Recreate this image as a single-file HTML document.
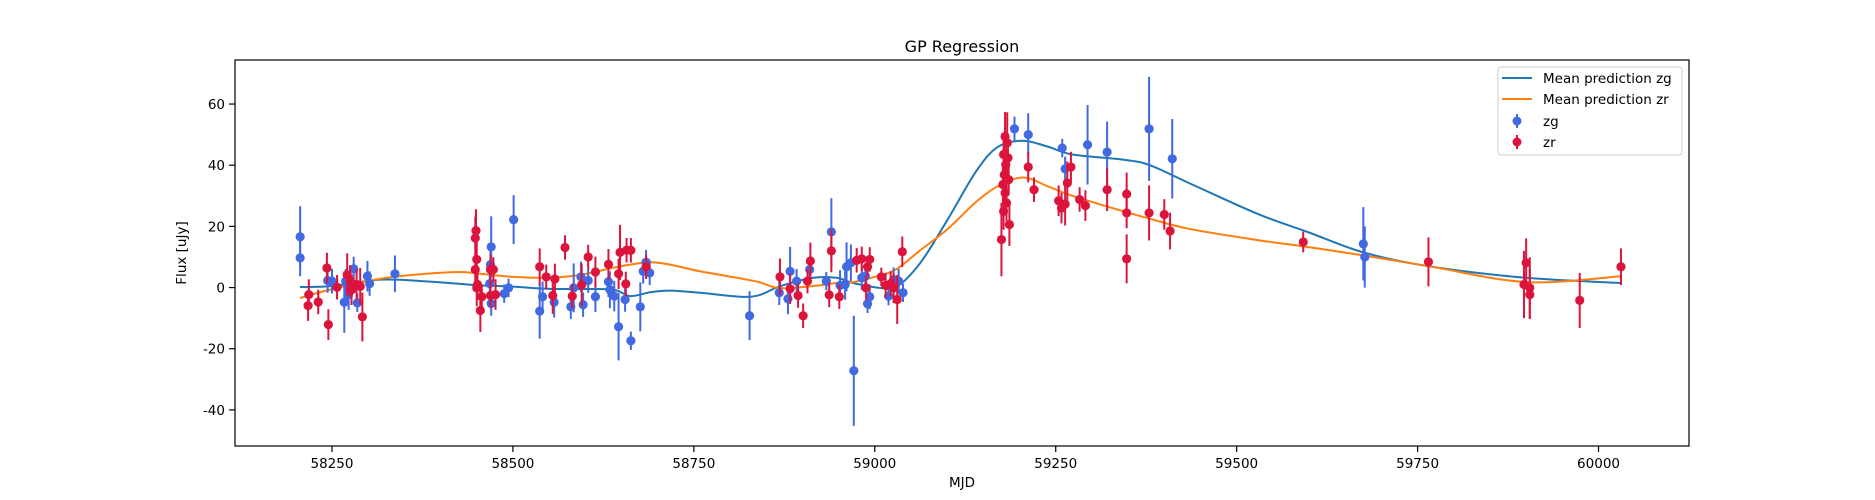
<!DOCTYPE html>
<html><head><meta charset="utf-8"><style>
html,body{margin:0;padding:0;background:#fff;}
svg{display:block;font-family:"DejaVu Sans","Liberation Sans",sans-serif;}
</style></head><body>
<svg id="chart" width="1875" height="500" viewBox="0 0 1875 500" xmlns="http://www.w3.org/2000/svg">
<rect x="0" y="0" width="1875" height="500" fill="#fff"/>
<text x="962" y="52" font-size="16" text-anchor="middle" fill="#000">GP Regression</text>
<text x="962" y="487" font-size="13.5" text-anchor="middle" fill="#000">MJD</text>
<text x="0" y="0" transform="translate(186,253) rotate(-90)" font-size="13.5" text-anchor="middle" fill="#000">Flux [uJy]</text>
<g id="plot"></g>
<rect x="235" y="60" width="1454" height="386" fill="none" stroke="#000" stroke-width="1.2"/>
<g>
<rect x="1498" y="67" width="184" height="88" rx="3" fill="#fff" fill-opacity="0.8" stroke="#ccc" stroke-width="1"/>
<line x1="1502" y1="78" x2="1532" y2="78" stroke="#1f77b4" stroke-width="2"/>
<text x="1543" y="83" font-size="13.5" fill="#000">Mean prediction zg</text>
<line x1="1502" y1="99" x2="1532" y2="99" stroke="#ff7f0e" stroke-width="2"/>
<text x="1543" y="104" font-size="13.5" fill="#000">Mean prediction zr</text>
<line x1="1517" y1="114" x2="1517" y2="128" stroke="#4169e1" stroke-width="2"/>
<circle cx="1517" cy="121" r="4.5" fill="#4169e1"/>
<text x="1543" y="126" font-size="13.5" fill="#000">zg</text>
<line x1="1517" y1="135" x2="1517" y2="149" stroke="#dc143c" stroke-width="2"/>
<circle cx="1517" cy="142" r="4.5" fill="#dc143c"/>
<text x="1543" y="147" font-size="13.5" fill="#000">zr</text>
</g>
</svg>
<script>
const xTicks = [58250,58500,58750,59000,59250,59500,59750,60000];
const yTicks = [-40,-20,0,20,40,60];
const gridT = [58206,58250,58317,58380,58427,58455,58500,58547,58590,58639,58662,58690,58717,58759,58814,58840,58869,58915,58947,58970,59007,59030,59063,59100,59140,59170,59205,59240,59273,59344,59380,59434,59530,59600,59675,59765,59900,60031];
const meanZg = [0.2,0.5,2.6,2,1.2,0.7,0.3,-0.4,-0.5,-0.7,-2.8,-1.5,-1,-1.7,-3,-2.5,0.4,3.2,3.2,1.5,-0.1,0.2,8.1,22,38,46,48,46,43.5,41.8,40,34.2,24,18,11.5,7,3.2,1.5];
const meanZr = [-3.4,-0.5,2.9,4.5,5.1,4.5,3.5,3.2,4,6.5,7.5,8.3,7.5,5.3,3,1.8,-0.2,0.5,1.5,1.8,4,6,12.2,19,28,33.1,36,33,30,24.9,22.5,19.2,15.5,13.2,10.5,7,1.8,3.7];
const zgT = [58206,58206,58244,58250,58267,58269,58273,58280,58285,58299,58302,58337,58468,58469,58470,58470,58488,58494,58501,58537,58541,58557,58580,58584,58594,58597,58604,58614,58632,58634,58640,58646,58655,58663,58676,58680,58684,58689,58827,58868,58880,58883,58892,58910,58933,58940,58952,58959,58961,58967,58971,58982,58987,58990,58993,59019,59026,59033,59039,59193,59212,59259,59263,59294,59321,59379,59411,59675,59677];
const zgF = [16.6,9.7,2.3,2.1,-4.8,2.1,-2.3,6.1,-5,3.7,1.3,4.5,1.3,7.5,13.3,-5.2,-2,-0.1,22.2,-7.7,-3,-4.8,-6.3,-0.1,3.5,-5.6,2.3,-3,1.9,-0.7,-2.8,-12.8,-3.9,-17.4,-6.3,5.3,8.3,4.8,-9.2,-1.7,-3.7,5.3,2.1,5.9,2.1,18.2,0.7,1,6.8,8.1,-27.2,3.2,3.7,-5.3,-3,-2.8,2.6,2.1,-1.7,51.9,50,45.6,38.8,46.7,44.3,51.9,42.1,14.3,10];
const zgE = [10,6,4,4,10,4,5,4,3,5,4,6,5,6,10,4,3,3,8,9,5,5,4,8,5,4,4,5,5,6,5,11,4,3,8,4,4,4,8,4,5,8,4,3,3,11,5,5,8,6,18,4,4,3,4,3,4,4,3,4,7,3,4,13,10,17,13,12,10];
const zrT = [58218,58217,58231,58243,58245,58257,58271,58275,58277,58284,58289,58292,58449,58448,58450,58448,58450,58451,58457,58455,58469,58473,58469,58476,58537,58546,58558,58555,58572,58582,58595,58604,58614,58632,58646,58648,58657,58663,58656,58684,58869,58883,58894,58901,58907,58911,58937,58940,58951,58975,58982,58988,58990,58993,59009,59015,59022,59026,59031,59038,59180,59183,59178,59184,59181,59179,59185,59177,59180,59182,59178,59186,59175,59212,59220,59254,59258,59263,59266,59271,59283,59291,59321,59348,59348,59348,59379,59400,59408,59592,59765,59900,59897,59905,59905,59974,60031];
const zrF = [-2.3,-5.9,-4.7,6.4,-12.1,0.1,4.2,2.3,-0.7,1,0.4,-9.6,18.6,16.2,9.2,5.9,-0.1,1,-3,-7.5,5.9,5.9,-2.6,-2.3,6.8,3.5,2.8,-2.6,13.1,-2.8,0.9,10,5.1,7.6,4.5,11.5,12.2,12.2,1.2,6.8,3.5,-0.4,-2.6,-9.2,2.1,8.7,-2.4,12,-3,8.9,9.4,-0.1,6.8,9.2,3.5,0.7,1.3,-0.1,-3.9,11.7,49.4,47.3,43.5,42.4,40.2,36.9,35.3,33.7,30.9,27.7,24.9,20.6,15.7,39.4,32,28.4,26,27.3,34.2,39.4,28.8,26.8,32,30.6,24.4,9.4,24.4,23.9,18.5,14.9,8.4,8.1,1,-0.1,-2.3,-4.2,6.8];
const zrE = [5,5,4,5,5,4,7,5,5,5,6,8,7,7,6,5,6,5,4,7,5,4,4,5,6,4,5,6,4,4,7,4,5,5,5,9,4,4,4,4,6,5,4,4,4,6,4,7,4,4,4,4,3,4,3,4,4,5,8,5,8,10,6,7,5,6,5,6,6,6,6,7,12,5,4,5,5,7,7,5,4,5,7,7,5,8,9,5,6,3.4,8,8,11,10,8,9,6];

const X0=235, X1=1689, Y0=60, Y1=446;
const xMin=58116, xMax=60125, yMin=-51.8, yMax=74.4;
function sx(t){return X0+(t-xMin)/(xMax-xMin)*(X1-X0);}
function sy(v){return Y1-(v-yMin)/(yMax-yMin)*(Y1-Y0);}
const NS='http://www.w3.org/2000/svg';
const svg=document.getElementById('chart');
const plot=document.getElementById('plot');
function mk(tag,attrs,parent){const e=document.createElementNS(NS,tag);for(const k in attrs)e.setAttribute(k,attrs[k]);(parent||plot).appendChild(e);return e;}

// ticks
xTicks.forEach(t=>{
  const l=mk('line',{x1:sx(t),x2:sx(t),y1:Y1,y2:Y1+6,stroke:'#000','stroke-width':1.2},svg);
  
  
  const tx=mk('text',{x:sx(t),y:Y1+22,'font-size':13.5,'text-anchor':'middle',fill:'#000'},svg);
  tx.textContent=t;
  
  
});
yTicks.forEach(v=>{
  const l=mk('line',{x1:X0-6,x2:X0,y1:sy(v),y2:sy(v),stroke:'#000','stroke-width':1.2},svg);
  
  
  const tx=mk('text',{x:X0-10,y:sy(v)+5,'font-size':13.5,'text-anchor':'end',fill:'#000'},svg);
  tx.textContent=v;
  
  
});

function smoothPath(ts,vs){
  const p=ts.map((t,i)=>[sx(t),sy(vs[i])]);
  let d='M'+p[0][0].toFixed(1)+','+p[0][1].toFixed(1);
  for(let i=0;i<p.length-1;i++){
    const a=p[i-1]||p[i],b=p[i],c=p[i+1],e=p[i+2]||c;
    const c1=[b[0]+(c[0]-a[0])/6,b[1]+(c[1]-a[1])/6];
    const c2=[c[0]-(e[0]-b[0])/6,c[1]-(e[1]-b[1])/6];
    d+=' C'+c1[0].toFixed(1)+','+c1[1].toFixed(1)+' '+c2[0].toFixed(1)+','+c2[1].toFixed(1)+' '+c[0].toFixed(1)+','+c[1].toFixed(1);
  }
  return d;
}
const lg=mk('path',{d:smoothPath(gridT,meanZg),fill:'none',stroke:'#1f77b4','stroke-width':2});


const lr=mk('path',{d:smoothPath(gridT,meanZr),fill:'none',stroke:'#ff7f0e','stroke-width':2});



function drawSeries(T,F,E,color,name){
  const g=mk('g',{});
  
  
  T.forEach((t,i)=>{
    const x=sx(t);
    const eb=mk('line',{x1:x,x2:x,y1:sy(F[i]-E[i]),y2:sy(F[i]+E[i]),stroke:color,'stroke-width':2},g);
    
    
  });
  T.forEach((t,i)=>{
    const c=mk('circle',{cx:sx(t),cy:sy(F[i]),r:4.6,fill:color},g);
    
    
  });
}
drawSeries(zgT,zgF,zgE,'#4169e1','zg');
drawSeries(zrT,zrF,zrE,'#dc143c','zr');
</script>
</body></html>
